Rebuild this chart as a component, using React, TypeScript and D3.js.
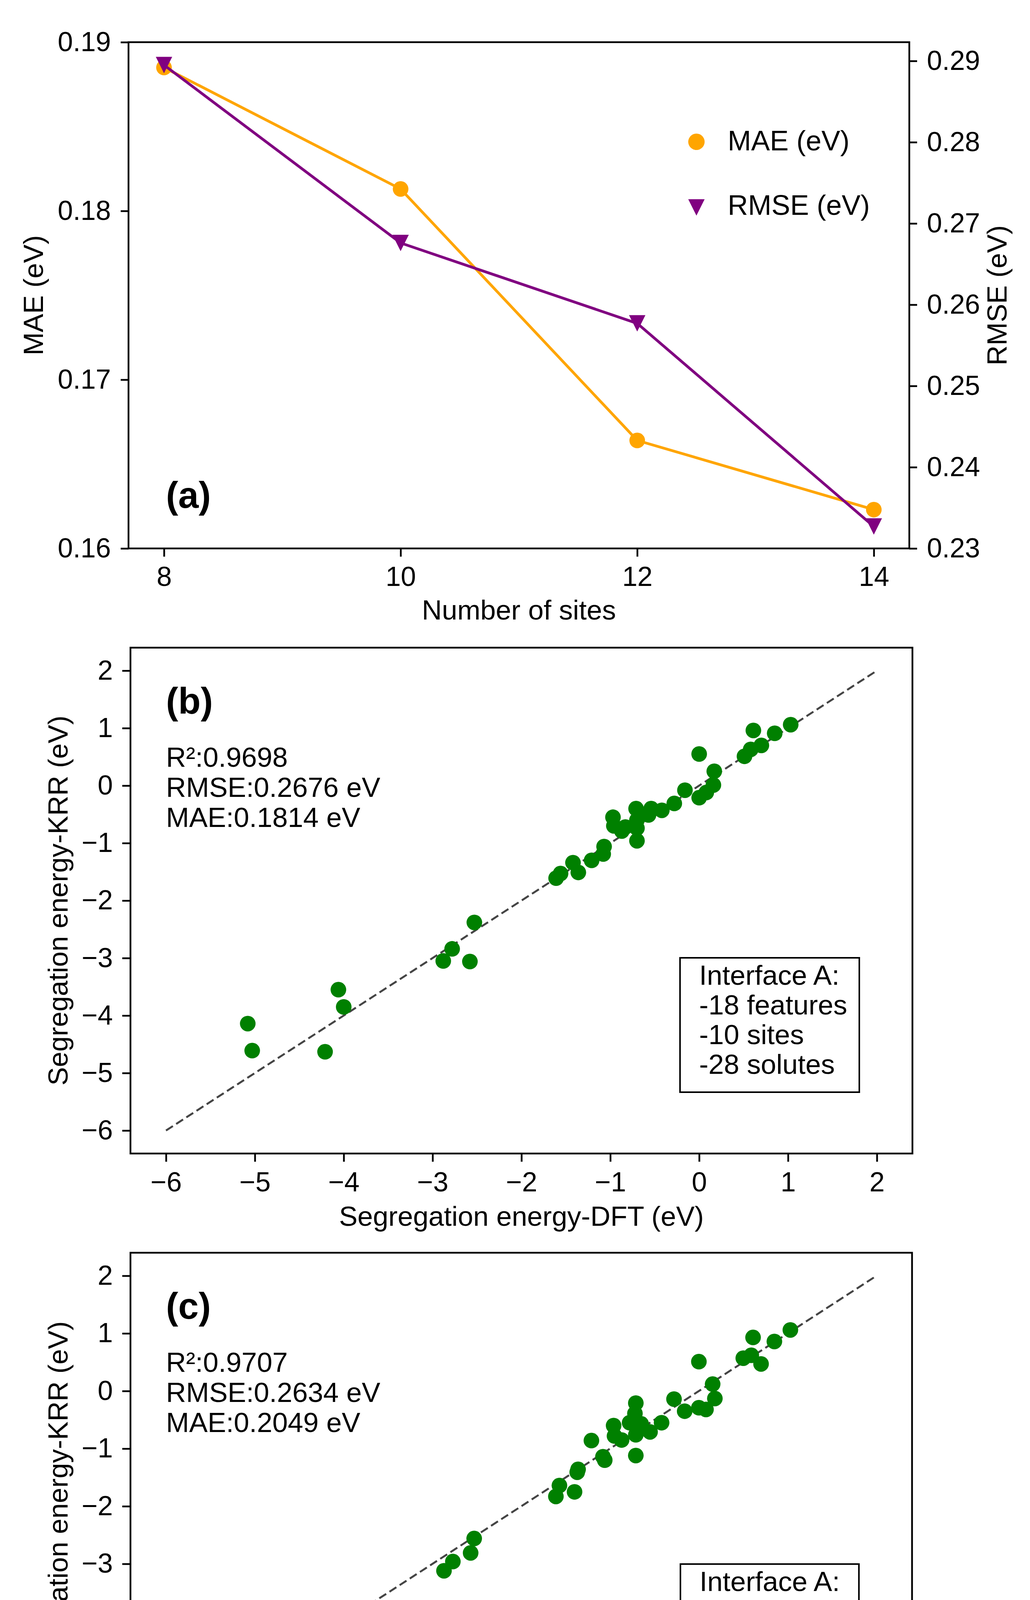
import React, { useRef, useEffect } from 'react';
import * as d3 from 'd3';

const W = 2637;
const H = 4745;
const FONT = "'Liberation Sans', Arial, Helvetica, sans-serif";

// panel (a): errors vs number of sites
const sites = [8, 10, 12, 14];
const maeValues = [0.1885, 0.1813, 0.1664, 0.1623];
const rmseValues = [0.2895, 0.2676, 0.2577, 0.2327];
const maeTicks = [0.16, 0.17, 0.18, 0.19];
const rmseTicks = [0.23, 0.24, 0.25, 0.26, 0.27, 0.28, 0.29];
const siteTicks = [8, 10, 12, 14];

// panel (b): 18 features
const dftB = [-5.08, -5.03, -4.21, -4.06, -4.0, -2.88, -2.78, -2.58, -2.53, -1.61, -1.56, -1.42, -1.36, -1.21,
  -1.07, -1.08, -0.97, -0.96, -0.87, -0.83, -0.71, -0.7, -0.7, -0.7, -0.57, -0.54, -0.42, -0.28, -0.16, 0.0, 0.0,
  0.08, 0.16, 0.17, 0.51, 0.58, 0.61, 0.7, 0.85, 1.03];
const krrB = [-4.14, -4.61, -4.63, -3.55, -3.85, -3.05, -2.84, -3.06, -2.38, -1.61, -1.53, -1.34, -1.51, -1.3,
  -1.06, -1.19, -0.55, -0.7, -0.79, -0.72, -0.4, -0.6, -0.74, -0.96, -0.51, -0.4, -0.43, -0.31, -0.08, 0.55, -0.21,
  -0.12, 0.01, 0.25, 0.51, 0.63, 0.96, 0.7, 0.91, 1.06];
const statsB = ['R²:0.9698', 'RMSE:0.2676 eV', 'MAE:0.1814 eV'];
const infoB = ['Interface A:', '-18 features', '-10 sites', '-28 solutes'];

// panel (c): 10 features
const dftC = [-5.08, -5.03, -4.2, -4.06, -4.0, -2.87, -2.77, -2.57, -2.53, -1.61, -1.57, -1.4, -1.37, -1.36,
  -1.21, -1.08, -1.06, -0.96, -0.95, -0.87, -0.71, -0.72, -0.78, -0.71, -0.65, -0.55, -0.42, -0.71, -0.28, -0.16,
  0.0, 0.0, 0.08, 0.18, 0.155, 0.5, 0.59, 0.7, 0.61, 0.85, 1.03];
const krrC = [-4.49, -4.77, -4.73, -4.04, -3.94, -3.12, -2.96, -2.81, -2.56, -1.83, -1.64, -1.75, -1.41, -1.36,
  -0.86, -1.14, -1.2, -0.6, -0.78, -0.85, -0.21, -0.39, -0.55, -0.76, -0.57, -0.71, -0.55, -1.12, -0.14, -0.35,
  0.51, -0.29, -0.32, -0.13, 0.12, 0.57, 0.62, 0.47, 0.93, 0.86, 1.06];
const statsC = ['R²:0.9707', 'RMSE:0.2634 eV', 'MAE:0.2049 eV'];
const infoC = ['Interface A:', '-10 features', '-10 sites', '-28 solutes'];

const energyTicks = [-6, -5, -4, -3, -2, -1, 0, 1, 2];
const energyDomain = [-6.4, 2.4];
const parityLine = [-6, 2];

const minus = (v: number) => String(v).replace('-', '\u2212');

type Sel = d3.Selection<SVGGElement, unknown, null, undefined>;

function styleAxis(a: Sel) {
  a.attr('font-size', 70).attr('font-family', FONT);
  a.select('.domain').remove();
  a.selectAll('.tick line').attr('stroke', '#000').attr('stroke-width', 4.5);
  a.selectAll('.tick text').attr('fill', '#000');
}

const App: React.FC = () => {
  const svgRef = useRef<SVGSVGElement | null>(null);

  useEffect(() => {
    document.body.style.margin = '0';
    if (!svgRef.current) return;
    const svg = d3.select(svgRef.current);
    svg.selectAll('*').remove();
    svg.append('rect').attr('width', W).attr('height', H).attr('fill', '#fff');

    // ---------- panel (a) ----------
    const boxA = { left: 329, right: 2328, top: 108, bottom: 1404 };
    const xA = d3.scaleLinear().domain([7.7, 14.3]).range([boxA.left, boxA.right]);
    const yMae = d3.scaleLinear().domain([0.16, 0.19]).range([boxA.bottom, boxA.top]);
    const yRmse = d3.scaleLinear().domain([0.23, 0.29231]).range([boxA.bottom, boxA.top]);
    const ga = svg.append('g');

    ga.append('g')
      .attr('transform', `translate(0,${boxA.bottom})`)
      .call(d3.axisBottom(xA).tickValues(siteTicks).tickSize(21).tickPadding(25).tickFormat(d => String(d)))
      .call(styleAxis);
    ga.append('g')
      .attr('transform', `translate(${boxA.left},0)`)
      .call(d3.axisLeft(yMae).tickValues(maeTicks).tickSize(20).tickPadding(25).tickFormat(d3.format('.2f')))
      .call(styleAxis);
    ga.append('g')
      .attr('transform', `translate(${boxA.right},0)`)
      .call(d3.axisRight(yRmse).tickValues(rmseTicks).tickSize(20).tickPadding(25).tickFormat(d3.format('.2f')))
      .call(styleAxis);

    const orange = '#FFA500';
    const purple = '#800080';
    const maeLine = d3.line<number>().x((_, i) => xA(sites[i])).y(d => yMae(d));
    const rmseLine = d3.line<number>().x((_, i) => xA(sites[i])).y(d => yRmse(d));
    ga.append('path').attr('d', maeLine(maeValues)).attr('fill', 'none').attr('stroke', orange).attr('stroke-width', 7);
    maeValues.forEach((v, i) => {
      ga.append('circle').attr('cx', xA(sites[i])).attr('cy', yMae(v)).attr('r', 20).attr('fill', orange);
    });
    ga.append('path').attr('d', rmseLine(rmseValues)).attr('fill', 'none').attr('stroke', purple).attr('stroke-width', 7);
    const tri = (cx: number, cy: number) => `M${cx - 21},${cy - 21}L${cx + 21},${cy - 21}L${cx},${cy + 21}Z`;
    rmseValues.forEach((v, i) => {
      ga.append('path').attr('d', tri(xA(sites[i]), yRmse(v))).attr('fill', purple);
    });

    // legend
    ga.append('circle').attr('cx', 1783).attr('cy', 363).attr('r', 21).attr('fill', orange);
    ga.append('path').attr('d', tri(1783, 531)).attr('fill', purple);
    ga.append('text').attr('x', 1863).attr('y', 385).attr('font-size', 72).attr('font-family', FONT).text('MAE (eV)');
    ga.append('text').attr('x', 1863).attr('y', 550).attr('font-size', 72).attr('font-family', FONT).text('RMSE (eV)');

    ga.append('text').attr('x', 425).attr('y', 1300).attr('font-size', 94).attr('font-weight', 'bold')
      .attr('font-family', FONT).text('(a)');

    ga.append('text').attr('x', (boxA.left + boxA.right) / 2).attr('y', 1586).attr('text-anchor', 'middle')
      .attr('font-size', 71).attr('font-family', FONT).text('Number of sites');
    ga.append('text').attr('transform', `translate(110,${(boxA.top + boxA.bottom) / 2}) rotate(-90)`)
      .attr('text-anchor', 'middle').attr('font-size', 71).attr('font-family', FONT).text('MAE (eV)');
    ga.append('text').attr('transform', `translate(2577,${(boxA.top + boxA.bottom) / 2}) rotate(-90)`)
      .attr('text-anchor', 'middle').attr('font-size', 71).attr('font-family', FONT).text('RMSE (eV)');

    ga.append('rect').attr('x', boxA.left).attr('y', boxA.top)
      .attr('width', boxA.right - boxA.left).attr('height', boxA.bottom - boxA.top)
      .attr('fill', 'none').attr('stroke', '#000').attr('stroke-width', 4.5);

    // ---------- panels (b), (c) ----------
    function parity(
      box: { left: number; right: number; top: number; bottom: number },
      dft: number[], krr: number[], stats: string[], info: string[], tag: string,
      infoBox: { left: number; right: number; top: number; bottom: number }
    ) {
      const g = svg.append('g');
      const x = d3.scaleLinear().domain(energyDomain).range([box.left, box.right]);
      const y = d3.scaleLinear().domain(energyDomain).range([box.bottom, box.top]);

      g.append('g')
        .attr('transform', `translate(0,${box.bottom})`)
        .call(d3.axisBottom(x).tickValues(energyTicks).tickSize(21).tickPadding(26).tickFormat(d => minus(+d)))
        .call(styleAxis);
      g.append('g')
        .attr('transform', `translate(${box.left},0)`)
        .call(d3.axisLeft(y).tickValues(energyTicks).tickSize(21).tickPadding(24).tickFormat(d => minus(+d)))
        .call(styleAxis);

      g.append('line')
        .attr('x1', x(parityLine[0])).attr('y1', y(parityLine[0]))
        .attr('x2', x(parityLine[1])).attr('y2', y(parityLine[1]))
        .attr('stroke', '#444').attr('stroke-width', 5).attr('stroke-dasharray', '21 10');

      dft.forEach((d, i) => {
        g.append('circle').attr('cx', x(d)).attr('cy', y(krr[i])).attr('r', 20).attr('fill', '#008000');
      });

      g.append('text').attr('x', 425).attr('y', box.top + 169).attr('font-size', 94).attr('font-weight', 'bold')
        .attr('font-family', FONT).text(tag);
      stats.forEach((s, i) => {
        g.append('text').attr('x', 425).attr('y', box.top + 305 + i * 77).attr('font-size', 71)
          .attr('font-family', FONT).text(s);
      });

      g.append('rect').attr('x', infoBox.left).attr('y', infoBox.top)
        .attr('width', infoBox.right - infoBox.left).attr('height', infoBox.bottom - infoBox.top)
        .attr('fill', '#fff').attr('stroke', '#000').attr('stroke-width', 4);
      info.forEach((s, i) => {
        g.append('text').attr('x', infoBox.left + 49).attr('y', infoBox.top + 69 + i * 76).attr('font-size', 71)
          .attr('font-family', FONT).text(s);
      });

      g.append('text').attr('x', (box.left + box.right) / 2).attr('y', box.bottom + 185).attr('text-anchor', 'middle')
        .attr('font-size', 71).attr('font-family', FONT).text('Segregation energy-DFT (eV)');
      g.append('text').attr('transform', `translate(173,${(box.top + box.bottom) / 2}) rotate(-90)`)
        .attr('text-anchor', 'middle').attr('font-size', 71).attr('font-family', FONT)
        .text('Segregation energy-KRR (eV)');

      g.append('rect').attr('x', box.left).attr('y', box.top)
        .attr('width', box.right - box.left).attr('height', box.bottom - box.top)
        .attr('fill', 'none').attr('stroke', '#000').attr('stroke-width', 4.5);
    }

    parity({ left: 334, right: 2336, top: 1658, bottom: 2953 }, dftB, krrB, statsB, infoB, '(b)',
      { left: 1741, right: 2200, top: 2452, bottom: 2796 });
    parity({ left: 334, right: 2335, top: 3207, bottom: 4505 }, dftC, krrC, statsC, infoC, '(c)',
      { left: 1742, right: 2199, top: 4004, bottom: 4347 });
  }, []);

  return <svg ref={svgRef} width={W} height={H} style={{ display: 'block' }}></svg>;
};

export default App;
